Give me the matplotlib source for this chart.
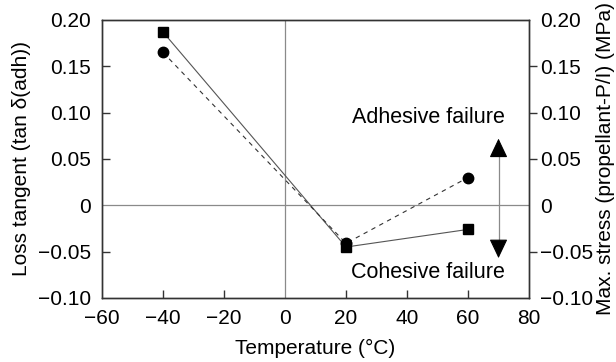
import matplotlib
matplotlib.use('Agg')
import matplotlib.pyplot as plt

plt.rcParams['font.family'] = ['Liberation Sans', 'DejaVu Sans']
plt.rcParams['font.size'] = 15
plt.rcParams['axes.unicode_minus'] = True

# Temperatures and measured values
temperature = [-40, 20, 60]
tan_delta = [0.187, -0.045, -0.026]      # loss tangent, squares
max_stress = [0.165, -0.041, 0.030]      # max. stress, circles

y_ticks = [-0.10, -0.05, 0, 0.05, 0.10, 0.15, 0.20]
y_ticklabels = ['\u22120.10', '\u22120.05', '0', '0.05', '0.10', '0.15', '0.20']
x_ticks = [-60, -40, -20, 0, 20, 40, 60, 80]
x_ticklabels = ['\u221260', '\u221240', '\u221220', '0', '20', '40', '60', '80']

fig = plt.figure(figsize=(6.16, 3.62), dpi=100)
ax = fig.add_axes([0.1656, 0.1768, 0.6932, 0.768])
ax2 = ax.twinx()

for a in (ax, ax2):
    a.set_xlim(-60, 80)
    a.set_ylim(-0.10, 0.20)
    for s in a.spines.values():
        s.set_color('#333333')
        s.set_linewidth(1.0)

# reference lines through the origin
ax.axhline(0, color='#8a8a8a', lw=0.9, zorder=1)
ax.axvline(0, color='#8a8a8a', lw=0.9, zorder=1)

ax.plot(temperature, tan_delta, color='#555555', lw=0.8, marker='s', ms=7.5,
        mfc='black', mec='black', zorder=3)
ax2.plot(temperature, max_stress, color='#333333', lw=0.8, ls=(0, (4, 4)),
         marker='o', ms=7.5, mfc='black', mec='black', zorder=3)

# failure-mode arrows: grey shaft, solid black heads
ax.plot([70, 70], [-0.045, 0.06], color='#8a8a8a', lw=0.9, zorder=2)
head = dict(arrowstyle='-|>,head_length=0.8,head_width=0.38',
            color='black', lw=0.8, shrinkA=0, shrinkB=0)
ax.annotate('', xy=(70, 0.072), xytext=(70, 0.055), zorder=2, arrowprops=head)
ax.annotate('', xy=(70, -0.057), xytext=(70, -0.040), zorder=2, arrowprops=head)
ax.text(72, 0.095, 'Adhesive failure', ha='right', va='center', fontsize=15.5)
ax.text(72, -0.073, 'Cohesive failure', ha='right', va='center', fontsize=15.5)

ax.set_xticks(x_ticks)
ax.set_xticklabels(x_ticklabels)
ax.set_yticks(y_ticks)
ax.set_yticklabels(y_ticklabels)
ax.tick_params(axis='both', direction='in', length=6, width=1.0, color='#333333', pad=8)
ax.tick_params(axis='x', pad=8)
# hide ticks that sit on the frame corners or the zero lines
for t in ax.xaxis.get_major_ticks():
    if t.get_loc() in (-60, 0, 80):
        t.tick1line.set_visible(False)
for t in ax.yaxis.get_major_ticks():
    if t.get_loc() in (-0.10, 0, 0.20):
        t.tick1line.set_visible(False)

ax2.set_yticks(y_ticks)
ax2.set_yticklabels(y_ticklabels)
ax2.tick_params(axis='y', direction='out', length=6, width=1.0, color='#333333', pad=2)
for t in ax2.yaxis.get_major_ticks():
    if t.get_loc() in (-0.10, 0, 0.20):
        t.tick2line.set_visible(False)

ax.set_xlabel('Temperature (\u00b0C)', labelpad=8)
ax.set_ylabel('Loss tangent (tan \u03b4(adh))', labelpad=5)
ax2.set_ylabel('Max. stress (propellant-P/I) (MPa)', labelpad=2)

fig.savefig('out.png', dpi=100)
